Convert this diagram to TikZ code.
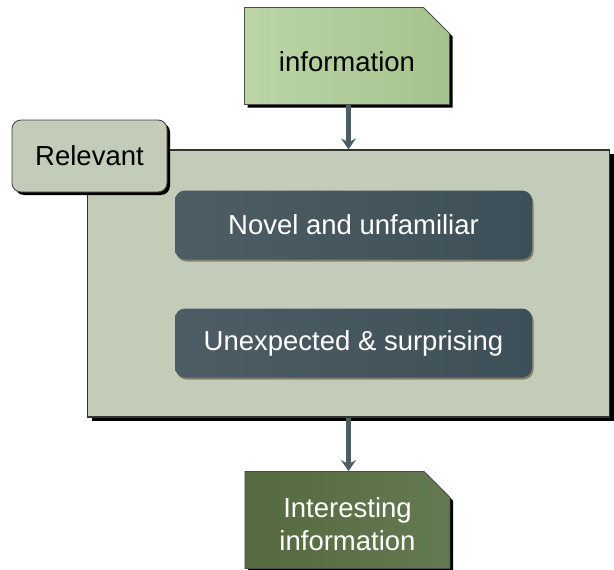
\documentclass[tikz,border=0pt]{standalone}
\usepackage{fontspec}
\setmainfont{Liberation Sans}
\usetikzlibrary{shapes.misc,shadows,arrows.meta}
\definecolor{infolight}{HTML}{BCD6A6}
\definecolor{infomid}{HTML}{A4C28E}
\definecolor{outdark}{HTML}{56693F}
\definecolor{outmid}{HTML}{647A52}
\definecolor{panelfill}{HTML}{C3CBB9}
\definecolor{slateA}{HTML}{4E5D65}
\definecolor{slateB}{HTML}{3D4F58}
\definecolor{flowgray}{HTML}{4D5D66}
\tikzset{
  txt/.style={font=\fontsize{27.5}{33}\selectfont, align=center},
  docbox/.style={txt, chamfered rectangle, chamfered rectangle corners=north east,
    chamfered rectangle xsep=13pt, chamfered rectangle ysep=13pt, inner sep=0pt,
    minimum width=205pt, minimum height=97pt, draw=black!70, line width=0.8pt,
    drop shadow={shadow xshift=3pt, shadow yshift=-3pt, fill=black, opacity=1}},
  slatebox/.style={txt, text=white, rounded corners=10pt, minimum width=357pt,
    minimum height=69pt, left color=slateA, right color=slateB,
    drop shadow={shadow xshift=1.5pt, shadow yshift=-2pt, fill=black!60!brown, opacity=.5}},
  flow/.style={draw=flowgray, line width=4.5pt, -{Stealth[length=11pt,width=15pt,inset=4pt]}}
}
\begin{document}
\begin{tikzpicture}[x=1pt,y=-1pt]
\useasboundingbox (0,0) rectangle (614,570);
\node[draw=black!80, line width=1.2pt, fill=panelfill, minimum width=522pt, minimum height=267pt,
  drop shadow={shadow xshift=4pt, shadow yshift=-4pt, fill=black, opacity=1}] (panel) at (348.5,283.5) {};
\node[txt, draw=black!75, line width=0.8pt, fill=panelfill, rounded corners=9pt, minimum width=155pt,
  minimum height=72pt, drop shadow={shadow xshift=3pt, shadow yshift=-3pt, fill=black, opacity=1}] (relevant) at (89.5,156) {Relevant};
\node[slatebox] (novel) at (353.5,225) {Novel and unfamiliar};
\node[slatebox] (unexpected) at (353.5,343) {Unexpected \& surprising};
\node[docbox, left color=infolight, right color=infomid, text height=30pt, text depth=0pt] (info) at (347,56) {information};
\node[docbox, text=white, left color=outdark, right color=outmid, text height=60pt, text depth=0pt] (interesting) at (347.5,520) {Interesting\\information};
\draw[flow] (info.south -| panel.north) -- (panel.north);
\draw[flow] (panel.south) -- (panel.south |- interesting.north);
\end{tikzpicture}
\end{document}
